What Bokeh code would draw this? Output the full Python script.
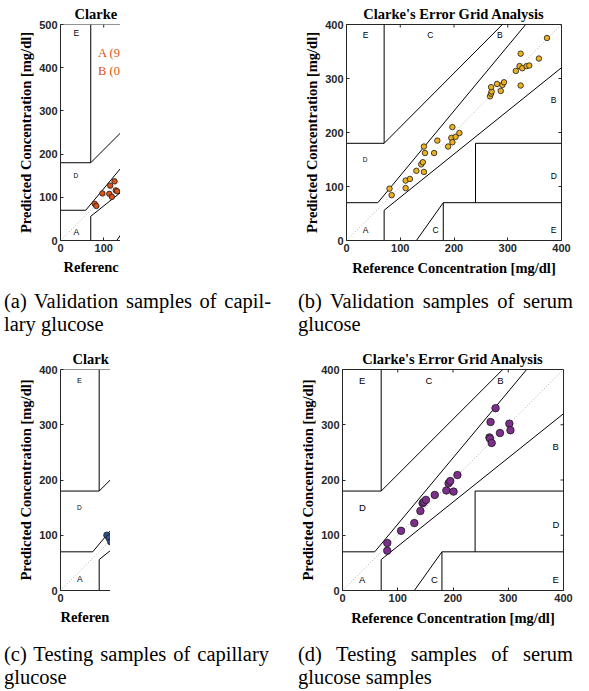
from bokeh.plotting import figure
from bokeh.models import Range1d, FixedTicker, Title, Div, Spacer, ColumnDataSource, Span
from bokeh.layouts import row, column
from bokeh.embed import file_html
from bokeh.resources import INLINE
from bokeh.core.properties import value

TITLE = "Clarke's Error Grid Analysis"
TITLE_CUT_A = "Clarke"
TITLE_CUT_C = "Clark"
XLABEL = "Reference Concentration [mg/dl]"
XLABEL_CUT_A = "Referenc"
XLABEL_CUT_C = "Referen"
YLABEL = "Predicted Concentration [mg/dl]"

TICKS_400 = [0, 100, 200, 300, 400]
TICKS_500 = [0, 100, 200, 300, 400, 500]
DIAG_400 = [0, 400]
DIAG_500 = [0, 500]

# (a) validation samples, capillary glucose
a_ref = [79, 83, 97, 113, 115, 119, 125, 128, 131]
a_pred = [85, 80, 109, 108, 127, 101, 137, 116, 114]
a_legend = ["A (9", "B (0"]

# (b) validation samples, serum glucose
b_ref = [80, 84, 110, 110, 118, 130, 139, 142, 144, 144, 146, 163, 169, 189, 195, 197, 197, 203, 210,
         267, 269, 270, 269, 280, 287, 290, 293, 315, 322, 324, 324, 327, 335, 340, 358, 373]
b_pred = [96, 84, 97, 111, 114, 129, 141, 145, 127, 174, 162, 162, 185, 174, 190, 210, 182, 192, 199,
          267, 272, 276, 284, 290, 277, 288, 293, 314, 323, 346, 287, 319, 323, 324, 337, 375]

# (c) testing samples, capillary glucose
c_ref = [84, 88, 91]
c_pred = [100, 95, 88]

# (d) testing samples, serum glucose
d_ref = [81, 81, 106, 130, 141, 145, 147, 151, 167, 188, 192, 195, 201, 208,
         266, 267, 268, 270, 277, 285, 302, 304]
d_pred = [86, 72, 108, 122, 144, 158, 160, 164, 173, 181, 194, 198, 179, 209,
          277, 275, 305, 267, 330, 285, 302, 290]

# Clarke error grid zone boundaries (segments)
GRID400_X0 = [0, 175 / 3, 70, 0, 70, 70, 70, 180, 180, 240, 240, 130]
GRID400_Y0 = [70, 70, 180, 180, 180, 0, 56, 0, 70, 70, 180, 0]
GRID400_X1 = [175 / 3, 400 / 1.2, 70, 70, 290, 70, 400, 180, 400, 240, 400, 180]
GRID400_Y1 = [70, 400, 400, 180, 400, 56, 320, 70, 70, 180, 180, 70]

GRID500_X0 = [0, 175 / 3, 70, 0, 70, 70, 70, 180, 180, 240, 240, 130]
GRID500_Y0 = [70, 70, 180, 180, 180, 0, 56, 0, 70, 70, 180, 0]
GRID500_X1 = [175 / 3, 500 / 1.2, 70, 70, 390, 70, 500, 180, 500, 240, 500, 180]
GRID500_Y1 = [70, 500, 500, 180, 500, 56, 400, 70, 70, 180, 180, 70]

# zone letters
ZONE_TXT = ["A", "D", "E", "C", "C", "E", "D", "B", "B"]
ZONE_X = [30, 30, 30, 150, 160, 380, 380, 380, 280]
ZONE_Y = [20, 150, 380, 380, 20, 20, 120, 260, 380]
ZONE_TXT_LEFT = ["A", "D", "E"]
ZONE_X_LEFT = [30, 30, 30]
ZONE_Y_LEFT_400 = [20, 150, 380]
ZONE_Y_LEFT_500 = [20, 150, 480]

CAPTIONS = [
    ("(a) Validation samples of capil-", "lary glucose"),
    ("(b) Validation samples of serum", "glucose"),
    ("(c) Testing samples of capillary", "glucose"),
    ("(d) Testing samples of serum", "glucose samples"),
]

AX = "#262626"


def style_axis(ax):
    ax.axis_line_color = AX
    ax.major_tick_line_color = AX
    ax.minor_tick_line_color = None
    ax.major_tick_in = 3
    ax.major_tick_out = 0
    ax.major_label_text_font = "Liberation Sans"
    ax.major_label_text_font_style = "bold"
    ax.major_label_text_font_size = "11px"
    ax.major_label_text_color = AX
    ax.major_label_standoff = 3


def panel(ref, pred, color, msize, xmax, ymax, ticks, grid, diag,
          ztxt, zx, zy, zsizes, w, h, mbl, mbr, mbt, mbb, cropped,
          title_text, xlabel_text, title_offset=0, xlabel_offset=0):
    p = figure(width=w, height=h, x_range=Range1d(0, xmax), y_range=Range1d(0, ymax),
               output_backend="svg", toolbar_location=None,
               min_border_left=mbl, min_border_right=mbr,
               min_border_top=mbt, min_border_bottom=mbb, title=title_text)
    p.grid.visible = False
    p.title.text_font = "Liberation Serif"
    p.title.text_font_size = "14.5px"
    p.title.text_font_style = "bold"
    p.title.text_color = "black"
    p.title.standoff = 5
    xa = p.xaxis[0]
    ya = p.yaxis[0]
    xa.ticker = FixedTicker(ticks=ticks)
    ya.ticker = FixedTicker(ticks=ticks)
    style_axis(xa)
    style_axis(ya)
    ya.axis_label = YLABEL
    ya.axis_label_text_font = "Liberation Serif"
    ya.axis_label_text_font_style = "bold"
    ya.axis_label_text_font_size = "14.5px"
    ya.axis_label_text_color = "black"
    ya.axis_label_standoff = 2

    frame_w = w - mbl - mbr
    frame_h = h - mbt - mbb
    tx = 3 * xmax / frame_w
    ty = 3 * ymax / frame_h

    if cropped:
        p.outline_line_color = None
        p.title.align = "left"
        p.title.offset = title_offset
        p.add_layout(Span(location=ymax, dimension="width", line_color=AX, line_width=1))
        t = Title(text=xlabel_text, align="left", offset=xlabel_offset,
                  text_font="Liberation Serif", text_font_style="bold",
                  text_font_size="14.5px", text_color="black", standoff=5)
        p.add_layout(t, "below")
        # inner ticks along the top edge
        p.segment(x0=ticks, y0=[ymax] * len(ticks), x1=ticks, y1=[ymax - ty] * len(ticks),
                  line_color=AX, line_width=1)
    else:
        p.outline_line_color = AX
        p.title.align = "center"
        xa.axis_label = xlabel_text
        xa.axis_label_text_font = "Liberation Serif"
        xa.axis_label_text_font_style = "bold"
        xa.axis_label_text_font_size = "14.5px"
        xa.axis_label_text_color = "black"
        xa.axis_label_standoff = 5
        # inner ticks along the top and right edges (MATLAB box)
        p.segment(x0=ticks, y0=[ymax] * len(ticks), x1=ticks, y1=[ymax - ty] * len(ticks),
                  line_color=AX, line_width=1)
        p.segment(x0=[xmax] * len(ticks), y0=ticks, x1=[xmax - tx] * len(ticks), y1=ticks,
                  line_color=AX, line_width=1)

    p.line(diag, diag, line_color="#a0a0a0", line_width=0.8, line_dash="1 2")
    x0, y0, x1, y1 = grid
    p.segment(x0=x0, y0=y0, x1=x1, y1=y1, line_color="black", line_width=1)
    zsrc = ColumnDataSource(dict(x=zx, y=zy, t=ztxt, s=zsizes))
    p.text(x="x", y="y", text="t", text_font_size="s", source=zsrc,
           text_font=value("Liberation Sans"), text_color="black",
           text_align="left", text_baseline="middle")
    p.scatter(ref, pred, size=msize, fill_color=color, line_color="#1a1a1a", line_width=0.8)
    return p


# Row 1
fa = panel(a_ref, a_pred, "#D95319", 5.5, 60 * 500 / 216, 500, TICKS_500,
           (GRID500_X0, GRID500_Y0, GRID500_X1, GRID500_Y1), DIAG_500,
           ZONE_TXT_LEFT, ZONE_X_LEFT, ZONE_Y_LEFT_500, ["8.5px", "6.5px", "8.5px"],
           w=120, h=290, mbl=60, mbr=0, mbt=24, mbb=50, cropped=True,
           title_text=TITLE_CUT_A, xlabel_text=XLABEL_CUT_A, title_offset=14, xlabel_offset=3)
fa.text(x=[87, 87], y=[434, 393], text=a_legend, text_color="#D95319",
        text_font=value("Liberation Serif"), text_font_size=value("12.5px"),
        text_align="left", text_baseline="middle")

fb = panel(b_ref, b_pred, "#EDB120", 5.5, 400, 400, TICKS_400,
           (GRID400_X0, GRID400_Y0, GRID400_X1, GRID400_Y1), DIAG_400,
           ZONE_TXT, ZONE_X, ZONE_Y, ["8.5px", "6.5px"] + ["8.5px"] * 7,
           w=469, h=290, mbl=226, mbr=28, mbt=24, mbb=50, cropped=False,
           title_text=TITLE, xlabel_text=XLABEL)

# Row 2
fc = panel(c_ref, c_pred, "#30509A", 6.5, 50 * 400 / 221, 400, TICKS_400,
           (GRID400_X0, GRID400_Y0, GRID400_X1, GRID400_Y1), DIAG_400,
           ZONE_TXT_LEFT, ZONE_X_LEFT, ZONE_Y_LEFT_400, ["8.5px", "6.5px", "7.5px"],
           w=110, h=307, mbl=60, mbr=0, mbt=33, mbb=53, cropped=True,
           title_text=TITLE_CUT_C, xlabel_text=XLABEL_CUT_C, title_offset=12, xlabel_offset=0)

fd = panel(d_ref, d_pred, "#7E2F8E", 7.5, 400, 400, TICKS_400,
           (GRID400_X0, GRID400_Y0, GRID400_X1, GRID400_Y1), DIAG_400,
           ZONE_TXT, ZONE_X, ZONE_Y, ["9.5px"] * 9,
           w=479, h=307, mbl=232, mbr=26, mbt=33, mbb=53, cropped=False,
           title_text=TITLE, xlabel_text=XLABEL)


def caption(first, second, width, height=46):
    html = ('<div style="font-family:\'Liberation Serif\',\'Times New Roman\',serif;'
            'font-size:20.5px;line-height:23px;color:#000;width:%dpx;">'
            '<div style="text-align:justify;text-align-last:justify;width:%dpx;">%s</div>'
            '<div style="width:%dpx;">%s</div></div>') % (width, width, first, width, second)
    return Div(text=html, width=width, height=height, margin=0)


capA = caption(*CAPTIONS[0], width=267)
capB = caption(*CAPTIONS[1], width=275)
capC = caption(*CAPTIONS[2], width=265)
capD = caption(*CAPTIONS[3], width=275)

layout = column(
    row(fa, fb, spacing=0),
    row(Spacer(width=4, height=46), capA, Spacer(width=27, height=46), capB, spacing=0),
    row(fc, fd, spacing=0),
    row(Spacer(width=4, height=46), capC, Spacer(width=29, height=46), capD, spacing=0),
    spacing=0,
)

open("out.html", "w").write(file_html(layout, INLINE))
